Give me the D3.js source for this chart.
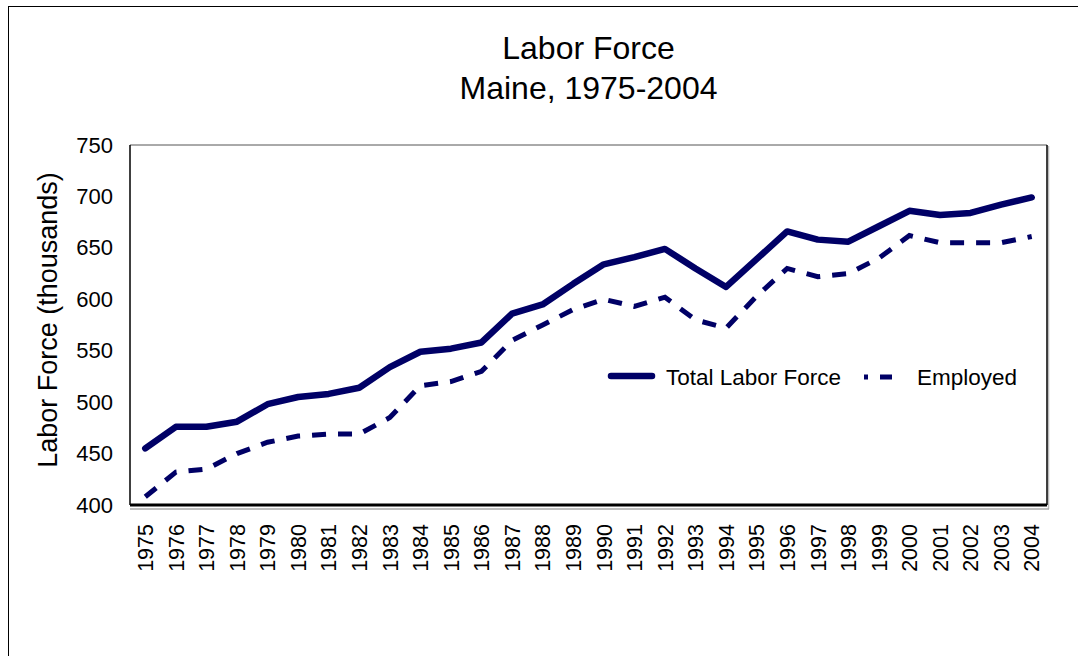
<!DOCTYPE html>
<meta charset="utf-8">
<html>
<head>
  <title>Labor Force, Maine</title>
  <script src="https://d3js.org/d3.v7.min.js"></script>
</head>
<style>
  body { margin: 0; background: #fff; }
  svg text { font-family: 'Liberation Sans', Arial, sans-serif; fill: #000; }
</style>
<body>
<script>

  // data (thousands)
  var years = d3.range(1975, 2005).map(String);
  var totalLaborForce = [455, 476, 476, 481, 498, 505, 508, 514, 534, 549,
                         552, 558, 586, 595, 615, 634, 641, 649, 630, 612,
                         639, 666, 658, 656, 671, 686, 682, 684, 692, 699];
  var employed = [408, 432, 435, 450, 461, 467, 469, 469, 485, 516,
                  520, 530, 560, 575, 590, 600, 593, 602, 580, 572,
                  603, 630, 622, 625, 640, 662, 655, 655, 655, 661];
  var yTicks = [400, 450, 500, 550, 600, 650, 700, 750];

  var navy = "#000066";

  var svg = d3.select("body").append("svg")
      .attr("width", 1078)
      .attr("height", 656);

  // outer frame
  svg.append("rect")
      .attr("x", 8.5).attr("y", 6.5)
      .attr("width", 1100).attr("height", 700)
      .attr("fill", "none")
      .attr("stroke", "#000")
      .attr("stroke-width", 1);

  var pLeft = 130, pRight = 1047, pTop = 145, pBottom = 505;

  var x = d3.scaleBand().domain(years).range([pLeft, pRight]);
  var y = d3.scaleLinear().domain([400, 750]).range([pBottom, pTop]);

  // plot frame
  svg.append("line").attr("x1", pLeft).attr("x2", pRight).attr("y1", pTop).attr("y2", pTop)
      .attr("stroke", "#555").attr("stroke-width", 1);
  svg.append("line").attr("x1", pRight + 1.5).attr("x2", pRight + 1.5).attr("y1", pTop + 1).attr("y2", pBottom + 4)
      .attr("stroke", "#bbb").attr("stroke-width", 1.5);
  svg.append("line").attr("x1", pRight).attr("x2", pRight).attr("y1", pTop).attr("y2", pBottom)
      .attr("stroke", "#000").attr("stroke-width", 1.5);
  svg.append("line").attr("x1", pLeft).attr("x2", pLeft).attr("y1", pTop).attr("y2", pBottom)
      .attr("stroke", "#000").attr("stroke-width", 1.5);
  svg.append("line").attr("x1", pLeft).attr("x2", pRight + 2).attr("y1", pBottom + 4).attr("y2", pBottom + 4)
      .attr("stroke", "#aaa").attr("stroke-width", 1.5);
  svg.append("line").attr("x1", pLeft).attr("x2", pRight).attr("y1", pBottom).attr("y2", pBottom)
      .attr("stroke", "#000").attr("stroke-width", 3);

  // y axis
  var yAxis = svg.append("g")
      .attr("transform", "translate(" + (pLeft - 17) + ",0)")
      .call(d3.axisLeft(y).tickValues(yTicks).tickSize(0).tickPadding(0));
  yAxis.select(".domain").remove();
  yAxis.selectAll("text")
      .attr("font-size", 22)
      .attr("font-family", "'Liberation Sans', Arial, sans-serif")
      .attr("fill", "#000");

  // x axis, rotated labels
  var xAxis = svg.append("g")
      .attr("transform", "translate(0," + (pBottom + 19) + ")")
      .call(d3.axisBottom(x).tickSize(0).tickPadding(0));
  xAxis.select(".domain").remove();
  xAxis.selectAll("text")
      .attr("font-size", 21.5)
      .attr("font-family", "'Liberation Sans', Arial, sans-serif")
      .attr("fill", "#000")
      .attr("text-anchor", "end")
      .attr("transform", "rotate(-90)")
      .attr("x", 0)
      .attr("y", 0)
      .attr("dy", "0.36em");

  // lines
  var xc = function (d, i) { return x(years[i]) + x.bandwidth() / 2; };
  var line = d3.line().x(xc).y(function (d) { return y(d); });

  svg.append("path")
      .datum(employed)
      .attr("d", line)
      .attr("fill", "none")
      .attr("stroke", navy)
      .attr("stroke-width", 5)
      .attr("stroke-dasharray", "14,12");

  svg.append("path")
      .datum(totalLaborForce)
      .attr("d", line)
      .attr("fill", "none")
      .attr("stroke", navy)
      .attr("stroke-width", 6.5)
      .attr("stroke-linejoin", "round")
      .attr("stroke-linecap", "round");

  // titles
  svg.append("text")
      .attr("x", (pLeft + pRight) / 2).attr("y", 59)
      .attr("text-anchor", "middle")
      .attr("font-size", 32)
      .text("Labor Force");
  svg.append("text")
      .attr("x", (pLeft + pRight) / 2).attr("y", 99)
      .attr("text-anchor", "middle")
      .attr("font-size", 32)
      .text("Maine, 1975-2004");

  svg.append("text")
      .attr("transform", "translate(57,320) rotate(-90)")
      .attr("text-anchor", "middle")
      .attr("font-size", 27)
      .text("Labor Force (thousands)");

  // legend
  var legend = svg.append("g");
  legend.append("line")
      .attr("x1", 611).attr("x2", 652).attr("y1", 376).attr("y2", 376)
      .attr("stroke", navy).attr("stroke-width", 6.5).attr("stroke-linecap", "round");
  legend.append("text")
      .attr("x", 666).attr("y", 385)
      .attr("font-size", 22.5)
      .text("Total Labor Force");
  legend.append("line")
      .attr("x1", 864).attr("x2", 892).attr("y1", 377).attr("y2", 377)
      .attr("stroke", navy).attr("stroke-width", 5)
      .attr("stroke-dasharray", "14,12").attr("stroke-dashoffset", 10);
  legend.append("text")
      .attr("x", 917).attr("y", 385)
      .attr("font-size", 22.5)
      .text("Employed");

</script>
</body>
</html>
